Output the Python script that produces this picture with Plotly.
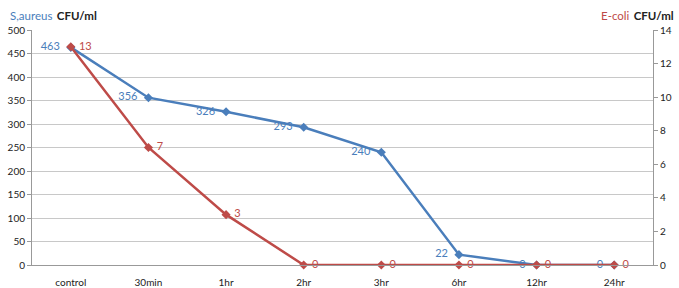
import plotly.graph_objects as go

categories = ["control", "30min", "1hr", "2hr", "3hr", "6hr", "12hr", "24hr"]
s_aureus = [463, 356, 326, 293, 240, 22, 0, 0]
e_coli = [13, 7, 3, 0, 0, 0, 0, 0]

BLUE = "#4A7EBB"
RED = "#BE4B48"
FONT = "Lato"
NB = "\u00a0"
GAP = "\u00a0\u2009"

fig = go.Figure()
fig.add_trace(go.Scatter(
    x=categories, y=s_aureus, mode="lines+markers+text",
    line=dict(color=BLUE, width=2.5),
    marker=dict(symbol="diamond", size=7, color=BLUE),
    text=[f"{v}{NB}{NB}" for v in s_aureus], textposition="middle left",
    textfont=dict(color=BLUE, size=11, family=FONT),
    cliponaxis=False, showlegend=False, yaxis="y"))
fig.add_trace(go.Scatter(
    x=categories, y=e_coli, mode="lines+markers+text",
    line=dict(color=RED, width=2.5),
    marker=dict(symbol="diamond", size=7, color=RED),
    text=[f"{NB}{v}" for v in e_coli], textposition="middle right",
    textfont=dict(color=RED, size=11, family=FONT),
    cliponaxis=False, showlegend=False, yaxis="y2"))

fig.update_layout(
    width=679, height=288,
    margin=dict(l=32, r=26, t=30, b=23),
    paper_bgcolor="white", plot_bgcolor="white",
    font=dict(family=FONT, size=10, color="#222"),
    xaxis=dict(type="category", showgrid=False, showline=True, linecolor="#999",
               ticks="", tickfont=dict(size=10), range=[-0.5, 7.5],
               ticklabelstandoff=8, automargin=False),
    yaxis=dict(range=[0, 500], dtick=50, showgrid=True, gridcolor="#C8C8C8",
               showline=True, linecolor="#999", ticks="outside", ticklen=4,
               tickcolor="#999", zeroline=False, tickfont=dict(size=10),
               automargin=False),
    yaxis2=dict(range=[0, 14], dtick=2, overlaying="y", side="right", showgrid=False,
                showline=True, linecolor="#999", ticks="outside", ticklen=4,
                tickcolor="#999", zeroline=False, tickfont=dict(size=10),
                automargin=False),
    annotations=[
        dict(x=0, y=1.0, xref="paper", yref="paper", xanchor="left", yanchor="bottom",
             text=f"<span style='color:{BLUE}'>S,aureus</span>{GAP}<b>CFU/ml</b>",
             showarrow=False, font=dict(size=11.5, family=FONT, color="#222"),
             xshift=-24, yshift=6),
        dict(x=1.0, y=1.0, xref="paper", yref="paper", xanchor="right", yanchor="bottom",
             text=f"<span style='color:{RED}'>E-coli</span>{GAP}<b>CFU/ml</b>",
             showarrow=False, font=dict(size=11.5, family=FONT, color="#222"),
             xshift=23, yshift=6),
    ],
)

fig.write_html("out.html")
